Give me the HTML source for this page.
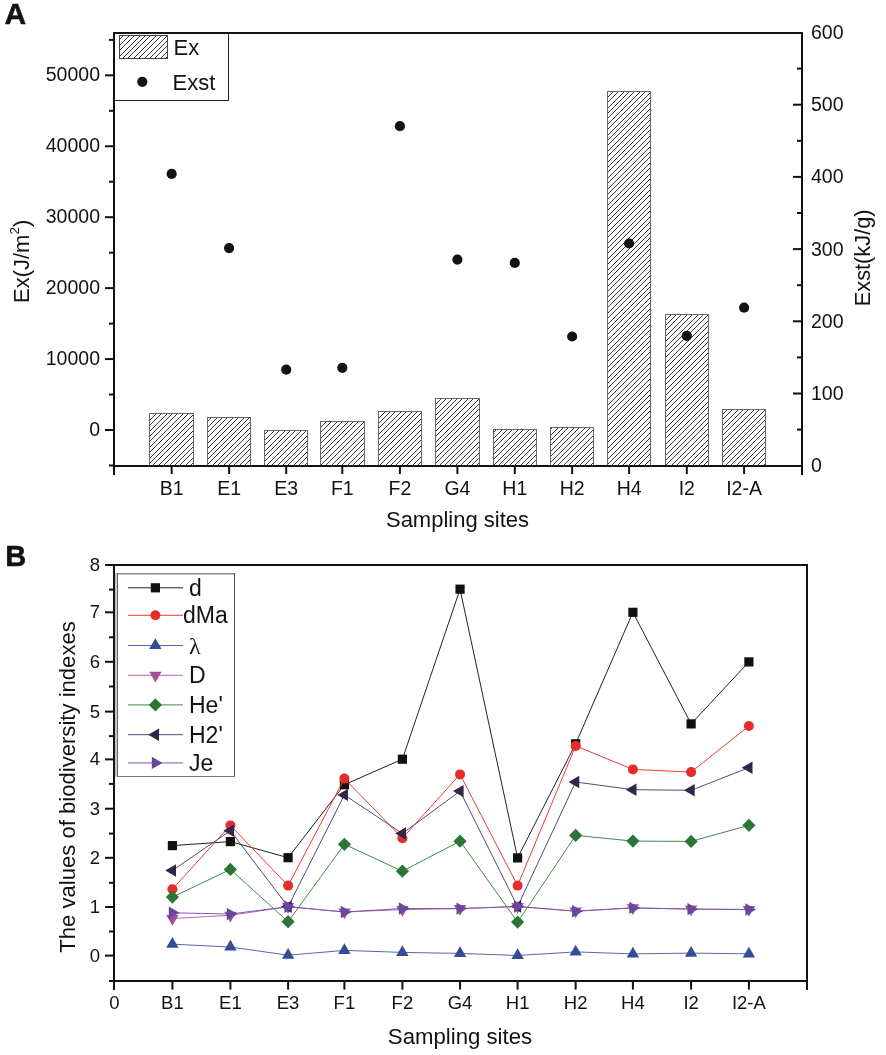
<!DOCTYPE html>
<html><head><meta charset="utf-8"><style>
html,body{margin:0;padding:0;background:#fff;overflow:hidden;}
svg{display:block;will-change:transform;}
text{font-family:"Liberation Sans", sans-serif;fill:#141210;}
</style></head><body>
<svg width="886" height="1055" viewBox="0 0 886 1055">
<rect x="113.5" y="32.5" width="115" height="68" fill="#fff" stroke="#222" stroke-width="1"/>
<clipPath id="bc"><rect x="149.5" y="413.5" width="44" height="52.5"/><rect x="207.5" y="417.5" width="43" height="48.5"/><rect x="264.5" y="430.5" width="43" height="35.5"/><rect x="320.5" y="421.5" width="44" height="44.5"/><rect x="378.5" y="411.5" width="43" height="54.5"/><rect x="435.5" y="398.5" width="44" height="67.5"/><rect x="493.5" y="429.5" width="43" height="36.5"/><rect x="550.5" y="427.5" width="43" height="38.5"/><rect x="607.5" y="91.5" width="43" height="374.5"/><rect x="665.5" y="314.5" width="43" height="151.5"/><rect x="722.5" y="409.5" width="43" height="56.5"/><rect x="119.5" y="35.5" width="48" height="23"/></clipPath>
<path d="M80,20 L-370,470 M85,20 L-365,470 M91,20 L-359,470 M96,20 L-354,470 M102,20 L-348,470 M107,20 L-343,470 M112,20 L-338,470 M118,20 L-332,470 M123,20 L-327,470 M129,20 L-321,470 M134,20 L-316,470 M139,20 L-311,470 M145,20 L-305,470 M150,20 L-300,470 M156,20 L-294,470 M161,20 L-289,470 M166,20 L-284,470 M172,20 L-278,470 M177,20 L-273,470 M183,20 L-267,470 M188,20 L-262,470 M193,20 L-257,470 M199,20 L-251,470 M204,20 L-246,470 M210,20 L-240,470 M215,20 L-235,470 M220,20 L-230,470 M226,20 L-224,470 M231,20 L-219,470 M237,20 L-213,470 M242,20 L-208,470 M247,20 L-203,470 M253,20 L-197,470 M258,20 L-192,470 M264,20 L-186,470 M269,20 L-181,470 M274,20 L-176,470 M280,20 L-170,470 M285,20 L-165,470 M291,20 L-159,470 M296,20 L-154,470 M301,20 L-149,470 M307,20 L-143,470 M312,20 L-138,470 M318,20 L-132,470 M323,20 L-127,470 M328,20 L-122,470 M334,20 L-116,470 M339,20 L-111,470 M345,20 L-105,470 M350,20 L-100,470 M355,20 L-95,470 M361,20 L-89,470 M366,20 L-84,470 M372,20 L-78,470 M377,20 L-73,470 M382,20 L-68,470 M388,20 L-62,470 M393,20 L-57,470 M399,20 L-51,470 M404,20 L-46,470 M409,20 L-41,470 M415,20 L-35,470 M420,20 L-30,470 M426,20 L-24,470 M431,20 L-19,470 M436,20 L-14,470 M442,20 L-8,470 M447,20 L-3,470 M453,20 L3,470 M458,20 L8,470 M463,20 L13,470 M469,20 L19,470 M474,20 L24,470 M480,20 L30,470 M485,20 L35,470 M490,20 L40,470 M496,20 L46,470 M501,20 L51,470 M507,20 L57,470 M512,20 L62,470 M517,20 L67,470 M523,20 L73,470 M528,20 L78,470 M534,20 L84,470 M539,20 L89,470 M544,20 L94,470 M550,20 L100,470 M555,20 L105,470 M561,20 L111,470 M566,20 L116,470 M571,20 L121,470 M577,20 L127,470 M582,20 L132,470 M588,20 L138,470 M593,20 L143,470 M598,20 L148,470 M604,20 L154,470 M609,20 L159,470 M615,20 L165,470 M620,20 L170,470 M625,20 L175,470 M631,20 L181,470 M636,20 L186,470 M642,20 L192,470 M647,20 L197,470 M652,20 L202,470 M658,20 L208,470 M663,20 L213,470 M669,20 L219,470 M674,20 L224,470 M679,20 L229,470 M685,20 L235,470 M690,20 L240,470 M696,20 L246,470 M701,20 L251,470 M706,20 L256,470 M712,20 L262,470 M717,20 L267,470 M723,20 L273,470 M728,20 L278,470 M733,20 L283,470 M739,20 L289,470 M744,20 L294,470 M750,20 L300,470 M755,20 L305,470 M760,20 L310,470 M766,20 L316,470 M771,20 L321,470 M777,20 L327,470 M782,20 L332,470 M787,20 L337,470 M793,20 L343,470 M798,20 L348,470 M804,20 L354,470 M809,20 L359,470 M814,20 L364,470 M820,20 L370,470 M825,20 L375,470 M831,20 L381,470 M836,20 L386,470 M841,20 L391,470 M847,20 L397,470 M852,20 L402,470 M858,20 L408,470 M863,20 L413,470 M868,20 L418,470 M874,20 L424,470 M879,20 L429,470 M885,20 L435,470 M890,20 L440,470 M895,20 L445,470 M901,20 L451,470 M906,20 L456,470 M912,20 L462,470 M917,20 L467,470 M922,20 L472,470 M928,20 L478,470 M933,20 L483,470 M939,20 L489,470 M944,20 L494,470 M949,20 L499,470 M955,20 L505,470 M960,20 L510,470 M966,20 L516,470 M971,20 L521,470 M976,20 L526,470 M982,20 L532,470 M987,20 L537,470 M993,20 L543,470 M998,20 L548,470 M1003,20 L553,470 M1009,20 L559,470 M1014,20 L564,470 M1020,20 L570,470 M1025,20 L575,470 M1030,20 L580,470 M1036,20 L586,470 M1041,20 L591,470 M1047,20 L597,470 M1052,20 L602,470 M1057,20 L607,470 M1063,20 L613,470 M1068,20 L618,470 M1074,20 L624,470 M1079,20 L629,470 M1084,20 L634,470 M1090,20 L640,470 M1095,20 L645,470 M1101,20 L651,470 M1106,20 L656,470 M1111,20 L661,470 M1117,20 L667,470 M1122,20 L672,470 M1128,20 L678,470 M1133,20 L683,470 M1138,20 L688,470 M1144,20 L694,470 M1149,20 L699,470 M1155,20 L705,470 M1160,20 L710,470 M1165,20 L715,470 M1171,20 L721,470 M1176,20 L726,470 M1182,20 L732,470 M1187,20 L737,470 M1192,20 L742,470 M1198,20 L748,470 M1203,20 L753,470 M1209,20 L759,470 M1214,20 L764,470 M1219,20 L769,470 M1225,20 L775,470 M1230,20 L780,470 M1236,20 L786,470 M1241,20 L791,470 M1246,20 L796,470" stroke="#3a3a3a" stroke-width="1" fill="none" clip-path="url(#bc)" shape-rendering="crispEdges"/>
<rect x="149.5" y="413.5" width="44" height="52.5" fill="none" stroke="#686868" stroke-width="1"/><rect x="207.5" y="417.5" width="43" height="48.5" fill="none" stroke="#686868" stroke-width="1"/><rect x="264.5" y="430.5" width="43" height="35.5" fill="none" stroke="#686868" stroke-width="1"/><rect x="320.5" y="421.5" width="44" height="44.5" fill="none" stroke="#686868" stroke-width="1"/><rect x="378.5" y="411.5" width="43" height="54.5" fill="none" stroke="#686868" stroke-width="1"/><rect x="435.5" y="398.5" width="44" height="67.5" fill="none" stroke="#686868" stroke-width="1"/><rect x="493.5" y="429.5" width="43" height="36.5" fill="none" stroke="#686868" stroke-width="1"/><rect x="550.5" y="427.5" width="43" height="38.5" fill="none" stroke="#686868" stroke-width="1"/><rect x="607.5" y="91.5" width="43" height="374.5" fill="none" stroke="#686868" stroke-width="1"/><rect x="665.5" y="314.5" width="43" height="151.5" fill="none" stroke="#686868" stroke-width="1"/><rect x="722.5" y="409.5" width="43" height="56.5" fill="none" stroke="#686868" stroke-width="1"/><rect x="119.5" y="35.5" width="48" height="23" fill="none" stroke="#444" stroke-width="1"/>
<circle cx="171.65" cy="173.9" r="5.1" fill="#141210"/>
<circle cx="229.1" cy="248.1" r="5.1" fill="#141210"/>
<circle cx="286.2" cy="369.7" r="5.1" fill="#141210"/>
<circle cx="342.3" cy="367.8" r="5.1" fill="#141210"/>
<circle cx="399.9" cy="126.2" r="5.1" fill="#141210"/>
<circle cx="457.4" cy="259.6" r="5.1" fill="#141210"/>
<circle cx="514.8" cy="262.9" r="5.1" fill="#141210"/>
<circle cx="572.15" cy="336.5" r="5.1" fill="#141210"/>
<circle cx="629.1" cy="243.5" r="5.1" fill="#141210"/>
<circle cx="686.8" cy="335.8" r="5.1" fill="#141210"/>
<circle cx="744.1" cy="307.7" r="5.1" fill="#141210"/>
<rect x="113" y="32" width="690" height="2" fill="#141210"/>
<rect x="113" y="465" width="690" height="2" fill="#141210"/>
<rect x="113" y="32" width="2" height="443" fill="#141210"/>
<rect x="801" y="32" width="2" height="443" fill="#141210"/>
<rect x="105" y="429" width="8" height="2" fill="#141210"/>
<rect x="105" y="358.07" width="8" height="2" fill="#141210"/>
<rect x="105" y="287.13" width="8" height="2" fill="#141210"/>
<rect x="105" y="216.2" width="8" height="2" fill="#141210"/>
<rect x="105" y="145.27" width="8" height="2" fill="#141210"/>
<rect x="105" y="74.33" width="8" height="2" fill="#141210"/>
<rect x="109" y="464.47" width="4" height="2" fill="#141210"/>
<rect x="109" y="393.53" width="4" height="2" fill="#141210"/>
<rect x="109" y="322.6" width="4" height="2" fill="#141210"/>
<rect x="109" y="251.67" width="4" height="2" fill="#141210"/>
<rect x="109" y="180.73" width="4" height="2" fill="#141210"/>
<rect x="109" y="109.8" width="4" height="2" fill="#141210"/>
<rect x="109" y="38.87" width="4" height="2" fill="#141210"/>
<rect x="793" y="392.5" width="8" height="2" fill="#141210"/>
<rect x="793" y="320.3" width="8" height="2" fill="#141210"/>
<rect x="793" y="248.1" width="8" height="2" fill="#141210"/>
<rect x="793" y="175.9" width="8" height="2" fill="#141210"/>
<rect x="793" y="103.7" width="8" height="2" fill="#141210"/>
<rect x="797" y="428.6" width="4" height="2" fill="#141210"/>
<rect x="797" y="356.4" width="4" height="2" fill="#141210"/>
<rect x="797" y="284.2" width="4" height="2" fill="#141210"/>
<rect x="797" y="212" width="4" height="2" fill="#141210"/>
<rect x="797" y="139.8" width="4" height="2" fill="#141210"/>
<rect x="797" y="67.6" width="4" height="2" fill="#141210"/>
<rect x="170.65" y="466" width="2" height="8" fill="#141210"/>
<rect x="228.1" y="466" width="2" height="8" fill="#141210"/>
<rect x="285.2" y="466" width="2" height="8" fill="#141210"/>
<rect x="341.3" y="466" width="2" height="8" fill="#141210"/>
<rect x="398.9" y="466" width="2" height="8" fill="#141210"/>
<rect x="456.4" y="466" width="2" height="8" fill="#141210"/>
<rect x="513.8" y="466" width="2" height="8" fill="#141210"/>
<rect x="571.15" y="466" width="2" height="8" fill="#141210"/>
<rect x="628.1" y="466" width="2" height="8" fill="#141210"/>
<rect x="685.8" y="466" width="2" height="8" fill="#141210"/>
<rect x="743.1" y="466" width="2" height="8" fill="#141210"/>
<text x="100" y="435.8" text-anchor="end" font-size="19.5">0</text>
<text x="100" y="364.87" text-anchor="end" font-size="19.5">10000</text>
<text x="100" y="293.93" text-anchor="end" font-size="19.5">20000</text>
<text x="100" y="223" text-anchor="end" font-size="19.5">30000</text>
<text x="100" y="152.07" text-anchor="end" font-size="19.5">40000</text>
<text x="100" y="81.13" text-anchor="end" font-size="19.5">50000</text>
<text x="811" y="472.2" font-size="19.5">0</text>
<text x="811" y="400" font-size="19.5">100</text>
<text x="811" y="327.8" font-size="19.5">200</text>
<text x="811" y="255.6" font-size="19.5">300</text>
<text x="811" y="183.4" font-size="19.5">400</text>
<text x="811" y="111.2" font-size="19.5">500</text>
<text x="811" y="39" font-size="19.5">600</text>
<text x="171.65" y="495" text-anchor="middle" font-size="19.5">B1</text>
<text x="229.1" y="495" text-anchor="middle" font-size="19.5">E1</text>
<text x="286.2" y="495" text-anchor="middle" font-size="19.5">E3</text>
<text x="342.3" y="495" text-anchor="middle" font-size="19.5">F1</text>
<text x="399.9" y="495" text-anchor="middle" font-size="19.5">F2</text>
<text x="457.4" y="495" text-anchor="middle" font-size="19.5">G4</text>
<text x="514.8" y="495" text-anchor="middle" font-size="19.5">H1</text>
<text x="572.15" y="495" text-anchor="middle" font-size="19.5">H2</text>
<text x="629.1" y="495" text-anchor="middle" font-size="19.5">H4</text>
<text x="686.8" y="495" text-anchor="middle" font-size="19.5">I2</text>
<text x="744.1" y="495" text-anchor="middle" font-size="19.5">I2-A</text>
<text x="457.5" y="526.6" text-anchor="middle" font-size="22">Sampling sites</text>
<text transform="translate(28.5,303) rotate(-90)" font-size="22">Ex(J/m<tspan dy="-10" font-size="13.5">2</tspan><tspan dy="10">)</tspan></text>
<text transform="translate(870.2,306.3) rotate(-90)" font-size="21.8">Exst(kJ/g)</text>
<text x="4.6" y="24" font-size="30" font-weight="bold" stroke="#141210" stroke-width="0.5">A</text>
<rect x="113" y="32" width="2" height="69" fill="#141210"/>
<rect x="113" y="32" width="116" height="2" fill="#141210"/>
<text x="173.5" y="54.6" font-size="22">Ex</text>
<circle cx="142.3" cy="81.8" r="5.1" fill="#141210"/>
<text x="172.5" y="89.9" font-size="22">Exst</text>
<rect x="113" y="564" width="695" height="2" fill="#141210"/>
<rect x="113" y="980" width="695" height="2" fill="#141210"/>
<rect x="113" y="564" width="2" height="426" fill="#141210"/>
<rect x="806" y="564" width="2" height="426" fill="#141210"/>
<rect x="105" y="954.6" width="8" height="2" fill="#141210"/>
<text x="100" y="961.6" text-anchor="end" font-size="18.5">0</text>
<rect x="109" y="930.5" width="4" height="2" fill="#141210"/>
<rect x="105" y="906" width="8" height="2" fill="#141210"/>
<text x="100" y="913" text-anchor="end" font-size="18.5">1</text>
<rect x="109" y="881.8" width="4" height="2" fill="#141210"/>
<rect x="105" y="856.8" width="8" height="2" fill="#141210"/>
<text x="100" y="863.8" text-anchor="end" font-size="18.5">2</text>
<rect x="109" y="832.6" width="4" height="2" fill="#141210"/>
<rect x="105" y="807.7" width="8" height="2" fill="#141210"/>
<text x="100" y="814.7" text-anchor="end" font-size="18.5">3</text>
<rect x="109" y="782.9" width="4" height="2" fill="#141210"/>
<rect x="105" y="758.4" width="8" height="2" fill="#141210"/>
<text x="100" y="765.4" text-anchor="end" font-size="18.5">4</text>
<rect x="109" y="735.1" width="4" height="2" fill="#141210"/>
<rect x="105" y="710.6" width="8" height="2" fill="#141210"/>
<text x="100" y="717.6" text-anchor="end" font-size="18.5">5</text>
<rect x="109" y="685.5" width="4" height="2" fill="#141210"/>
<rect x="105" y="660.8" width="8" height="2" fill="#141210"/>
<text x="100" y="667.8" text-anchor="end" font-size="18.5">6</text>
<rect x="109" y="636.3" width="4" height="2" fill="#141210"/>
<rect x="105" y="611.3" width="8" height="2" fill="#141210"/>
<text x="100" y="618.3" text-anchor="end" font-size="18.5">7</text>
<rect x="109" y="588.6" width="4" height="2" fill="#141210"/>
<rect x="105" y="564" width="8" height="2" fill="#141210"/>
<text x="100" y="571" text-anchor="end" font-size="18.5">8</text>
<rect x="109" y="980" width="4" height="2" fill="#141210"/>
<rect x="171.4" y="981" width="2" height="8.6" fill="#141210"/>
<rect x="229.4" y="981" width="2" height="8.6" fill="#141210"/>
<rect x="287.1" y="981" width="2" height="8.6" fill="#141210"/>
<rect x="343.4" y="981" width="2" height="8.6" fill="#141210"/>
<rect x="401.4" y="981" width="2" height="8.6" fill="#141210"/>
<rect x="459.05" y="981" width="2" height="8.6" fill="#141210"/>
<rect x="516.6" y="981" width="2" height="8.6" fill="#141210"/>
<rect x="574.65" y="981" width="2" height="8.6" fill="#141210"/>
<rect x="631.9" y="981" width="2" height="8.6" fill="#141210"/>
<rect x="690.1" y="981" width="2" height="8.6" fill="#141210"/>
<rect x="747.9" y="981" width="2" height="8.6" fill="#141210"/>
<text x="114.4" y="1009" text-anchor="middle" font-size="18.5">0</text>
<text x="172.4" y="1009" text-anchor="middle" font-size="18.5">B1</text>
<text x="230.4" y="1009" text-anchor="middle" font-size="18.5">E1</text>
<text x="288.1" y="1009" text-anchor="middle" font-size="18.5">E3</text>
<text x="344.4" y="1009" text-anchor="middle" font-size="18.5">F1</text>
<text x="402.4" y="1009" text-anchor="middle" font-size="18.5">F2</text>
<text x="460.05" y="1009" text-anchor="middle" font-size="18.5">G4</text>
<text x="517.6" y="1009" text-anchor="middle" font-size="18.5">H1</text>
<text x="575.65" y="1009" text-anchor="middle" font-size="18.5">H2</text>
<text x="632.9" y="1009" text-anchor="middle" font-size="18.5">H4</text>
<text x="691.1" y="1009" text-anchor="middle" font-size="18.5">I2</text>
<text x="748.9" y="1009" text-anchor="middle" font-size="18.5">I2-A</text>
<text x="460" y="1044" text-anchor="middle" font-size="22.2">Sampling sites</text>
<text transform="translate(74.8,952.8) rotate(-90)" font-size="22.1">The values of biodiversity indexes</text>
<text x="5.2" y="565.6" font-size="29" font-weight="bold" stroke="#141210" stroke-width="0.5">B</text>
<polyline points="172.4,845.6 230.4,841.6 288.1,857.7 344.4,784.7 402.4,759.2 460.05,589.2 517.6,857.9 575.65,743.8 632.9,612.3 691.1,723.9 748.9,661.9" fill="none" stroke="#222222" stroke-width="1"/>
<rect x="167.8" y="841" width="9.2" height="9.2" fill="#111111"/>
<rect x="225.8" y="837" width="9.2" height="9.2" fill="#111111"/>
<rect x="283.5" y="853.1" width="9.2" height="9.2" fill="#111111"/>
<rect x="339.8" y="780.1" width="9.2" height="9.2" fill="#111111"/>
<rect x="397.8" y="754.6" width="9.2" height="9.2" fill="#111111"/>
<rect x="455.45" y="584.6" width="9.2" height="9.2" fill="#111111"/>
<rect x="513" y="853.3" width="9.2" height="9.2" fill="#111111"/>
<rect x="571.05" y="739.2" width="9.2" height="9.2" fill="#111111"/>
<rect x="628.3" y="607.7" width="9.2" height="9.2" fill="#111111"/>
<rect x="686.5" y="719.3" width="9.2" height="9.2" fill="#111111"/>
<rect x="744.3" y="657.3" width="9.2" height="9.2" fill="#111111"/>
<polyline points="172.4,889.3 230.4,825.4 288.1,885.6 344.4,778.6 402.4,838.2 460.05,774.4 517.6,885.6 575.65,745.9 632.9,769.4 691.1,772.1 748.9,726" fill="none" stroke="#e93c38" stroke-width="1"/>
<circle cx="172.4" cy="889.3" r="5" fill="#e52e2a"/>
<circle cx="230.4" cy="825.4" r="5" fill="#e52e2a"/>
<circle cx="288.1" cy="885.6" r="5" fill="#e52e2a"/>
<circle cx="344.4" cy="778.6" r="5" fill="#e52e2a"/>
<circle cx="402.4" cy="838.2" r="5" fill="#e52e2a"/>
<circle cx="460.05" cy="774.4" r="5" fill="#e52e2a"/>
<circle cx="517.6" cy="885.6" r="5" fill="#e52e2a"/>
<circle cx="575.65" cy="745.9" r="5" fill="#e52e2a"/>
<circle cx="632.9" cy="769.4" r="5" fill="#e52e2a"/>
<circle cx="691.1" cy="772.1" r="5" fill="#e52e2a"/>
<circle cx="748.9" cy="726" r="5" fill="#e52e2a"/>
<polyline points="172.4,944.2 230.4,947 288.1,955.2 344.4,950.4 402.4,952.4 460.05,953.4 517.6,955.5 575.65,951.9 632.9,953.9 691.1,953.1 748.9,953.8" fill="none" stroke="#5566aa" stroke-width="1"/>
<path d="M172.4,937.04 L178.6,947.78 L166.2,947.78Z" fill="#364b96"/>
<path d="M230.4,939.84 L236.6,950.58 L224.2,950.58Z" fill="#364b96"/>
<path d="M288.1,948.04 L294.3,958.78 L281.9,958.78Z" fill="#364b96"/>
<path d="M344.4,943.24 L350.6,953.98 L338.2,953.98Z" fill="#364b96"/>
<path d="M402.4,945.24 L408.6,955.98 L396.2,955.98Z" fill="#364b96"/>
<path d="M460.05,946.24 L466.25,956.98 L453.85,956.98Z" fill="#364b96"/>
<path d="M517.6,948.34 L523.8,959.08 L511.4,959.08Z" fill="#364b96"/>
<path d="M575.65,944.74 L581.85,955.48 L569.45,955.48Z" fill="#364b96"/>
<path d="M632.9,946.74 L639.1,957.48 L626.7,957.48Z" fill="#364b96"/>
<path d="M691.1,945.94 L697.3,956.68 L684.9,956.68Z" fill="#364b96"/>
<path d="M748.9,946.64 L755.1,957.38 L742.7,957.38Z" fill="#364b96"/>
<polyline points="172.4,918.5 230.4,915.3 288.1,906.7 344.4,912 402.4,909.6 460.05,908.6 517.6,906.5 575.65,911.2 632.9,907.9 691.1,909.1 748.9,909.5" fill="none" stroke="#b666ad" stroke-width="1"/>
<path d="M172.4,925.66 L178.6,914.92 L166.2,914.92Z" fill="#a4509c"/>
<path d="M230.4,922.46 L236.6,911.72 L224.2,911.72Z" fill="#a4509c"/>
<path d="M288.1,913.86 L294.3,903.12 L281.9,903.12Z" fill="#a4509c"/>
<path d="M344.4,919.16 L350.6,908.42 L338.2,908.42Z" fill="#a4509c"/>
<path d="M402.4,916.76 L408.6,906.02 L396.2,906.02Z" fill="#a4509c"/>
<path d="M460.05,915.76 L466.25,905.02 L453.85,905.02Z" fill="#a4509c"/>
<path d="M517.6,913.66 L523.8,902.92 L511.4,902.92Z" fill="#a4509c"/>
<path d="M575.65,918.36 L581.85,907.62 L569.45,907.62Z" fill="#a4509c"/>
<path d="M632.9,915.06 L639.1,904.32 L626.7,904.32Z" fill="#a4509c"/>
<path d="M691.1,916.26 L697.3,905.52 L684.9,905.52Z" fill="#a4509c"/>
<path d="M748.9,916.66 L755.1,905.92 L742.7,905.92Z" fill="#a4509c"/>
<polyline points="172.4,897.1 230.4,869.4 288.1,921.7 344.4,844.3 402.4,871.2 460.05,841.2 517.6,922.1 575.65,835.4 632.9,841.1 691.1,841.4 748.9,825.3" fill="none" stroke="#3f8a48" stroke-width="1"/>
<path d="M172.4,890.5 L179,897.1 L172.4,903.7 L165.8,897.1Z" fill="#2b7637"/>
<path d="M230.4,862.8 L237,869.4 L230.4,876 L223.8,869.4Z" fill="#2b7637"/>
<path d="M288.1,915.1 L294.7,921.7 L288.1,928.3 L281.5,921.7Z" fill="#2b7637"/>
<path d="M344.4,837.7 L351,844.3 L344.4,850.9 L337.8,844.3Z" fill="#2b7637"/>
<path d="M402.4,864.6 L409,871.2 L402.4,877.8 L395.8,871.2Z" fill="#2b7637"/>
<path d="M460.05,834.6 L466.65,841.2 L460.05,847.8 L453.45,841.2Z" fill="#2b7637"/>
<path d="M517.6,915.5 L524.2,922.1 L517.6,928.7 L511,922.1Z" fill="#2b7637"/>
<path d="M575.65,828.8 L582.25,835.4 L575.65,842 L569.05,835.4Z" fill="#2b7637"/>
<path d="M632.9,834.5 L639.5,841.1 L632.9,847.7 L626.3,841.1Z" fill="#2b7637"/>
<path d="M691.1,834.8 L697.7,841.4 L691.1,848 L684.5,841.4Z" fill="#2b7637"/>
<path d="M748.9,818.7 L755.5,825.3 L748.9,831.9 L742.3,825.3Z" fill="#2b7637"/>
<polyline points="172.4,870.5 230.4,830.7 288.1,906.7 344.4,794.9 402.4,833.5 460.05,791.1 517.6,906.5 575.65,782 632.9,789.7 691.1,790.3 748.9,767.7" fill="none" stroke="#554b78" stroke-width="1"/>
<path d="M165.24,870.5 L175.98,864.3 L175.98,876.7Z" fill="#32264a"/>
<path d="M223.24,830.7 L233.98,824.5 L233.98,836.9Z" fill="#32264a"/>
<path d="M280.94,906.7 L291.68,900.5 L291.68,912.9Z" fill="#32264a"/>
<path d="M337.24,794.9 L347.98,788.7 L347.98,801.1Z" fill="#32264a"/>
<path d="M395.24,833.5 L405.98,827.3 L405.98,839.7Z" fill="#32264a"/>
<path d="M452.89,791.1 L463.63,784.9 L463.63,797.3Z" fill="#32264a"/>
<path d="M510.44,906.5 L521.18,900.3 L521.18,912.7Z" fill="#32264a"/>
<path d="M568.49,782 L579.23,775.8 L579.23,788.2Z" fill="#32264a"/>
<path d="M625.74,789.7 L636.48,783.5 L636.48,795.9Z" fill="#32264a"/>
<path d="M683.94,790.3 L694.68,784.1 L694.68,796.5Z" fill="#32264a"/>
<path d="M741.74,767.7 L752.48,761.5 L752.48,773.9Z" fill="#32264a"/>
<polyline points="172.4,912.8 230.4,914 288.1,906.7 344.4,912 402.4,908.5 460.05,908.6 517.6,906.5 575.65,911.2 632.9,907.9 691.1,909.1 748.9,909.5" fill="none" stroke="#7a5aac" stroke-width="1"/>
<path d="M179.56,912.8 L168.82,906.6 L168.82,919Z" fill="#6a469c"/>
<path d="M237.56,914 L226.82,907.8 L226.82,920.2Z" fill="#6a469c"/>
<path d="M295.26,906.7 L284.52,900.5 L284.52,912.9Z" fill="#6a469c"/>
<path d="M351.56,912 L340.82,905.8 L340.82,918.2Z" fill="#6a469c"/>
<path d="M409.56,908.5 L398.82,902.3 L398.82,914.7Z" fill="#6a469c"/>
<path d="M467.21,908.6 L456.47,902.4 L456.47,914.8Z" fill="#6a469c"/>
<path d="M524.76,906.5 L514.02,900.3 L514.02,912.7Z" fill="#6a469c"/>
<path d="M582.81,911.2 L572.07,905 L572.07,917.4Z" fill="#6a469c"/>
<path d="M640.06,907.9 L629.32,901.7 L629.32,914.1Z" fill="#6a469c"/>
<path d="M698.26,909.1 L687.52,902.9 L687.52,915.3Z" fill="#6a469c"/>
<path d="M756.06,909.5 L745.32,903.3 L745.32,915.7Z" fill="#6a469c"/>
<rect x="115" y="573" width="2" height="204" fill="#cac8c6"/>
<rect x="117" y="573" width="118" height="204" fill="#fff"/>
<path d="M117,573.7 H235" stroke="#8e8c8a" stroke-width="1.4"/>
<path d="M117.5,573 V777" stroke="#6a6866" stroke-width="1"/>
<path d="M234.5,573 V777" stroke="#4a4846" stroke-width="1"/>
<path d="M117,776.5 H235" stroke="#7a7876" stroke-width="1"/>
<line x1="128" y1="587.8" x2="183" y2="587.8" stroke="#222222" stroke-width="1"/>
<rect x="150.8" y="583.2" width="9.2" height="9.2" fill="#111111"/>
<text x="189" y="595.8" font-size="23">d</text>
<line x1="128" y1="615.3" x2="183" y2="615.3" stroke="#e93c38" stroke-width="1"/>
<circle cx="155.4" cy="615.3" r="5" fill="#e52e2a"/>
<text x="183" y="623.3" font-size="23">dMa</text>
<line x1="128" y1="645.5" x2="183" y2="645.5" stroke="#5566aa" stroke-width="1"/>
<path d="M155.4,638.34 L161.6,649.08 L149.2,649.08Z" fill="#364b96"/>
<text x="189" y="653.5" font-size="24" style="font-family:&quot;Liberation Serif&quot;,serif">λ</text>
<line x1="128" y1="675.3" x2="183" y2="675.3" stroke="#b666ad" stroke-width="1"/>
<path d="M155.4,682.46 L161.6,671.72 L149.2,671.72Z" fill="#a4509c"/>
<text x="189" y="683.3" font-size="23">D</text>
<line x1="128" y1="704.9" x2="183" y2="704.9" stroke="#3f8a48" stroke-width="1"/>
<path d="M155.4,698.3 L162,704.9 L155.4,711.5 L148.8,704.9Z" fill="#2b7637"/>
<text x="189" y="712.9" font-size="23">He'</text>
<line x1="128" y1="734.7" x2="183" y2="734.7" stroke="#554b78" stroke-width="1"/>
<path d="M148.24,734.7 L158.98,728.5 L158.98,740.9Z" fill="#32264a"/>
<text x="189" y="742.7" font-size="23">H2'</text>
<line x1="128" y1="762.9" x2="183" y2="762.9" stroke="#7a5aac" stroke-width="1"/>
<path d="M162.56,762.9 L151.82,756.7 L151.82,769.1Z" fill="#6a469c"/>
<text x="189" y="770.9" font-size="23">Je</text>
</svg>
</body></html>
